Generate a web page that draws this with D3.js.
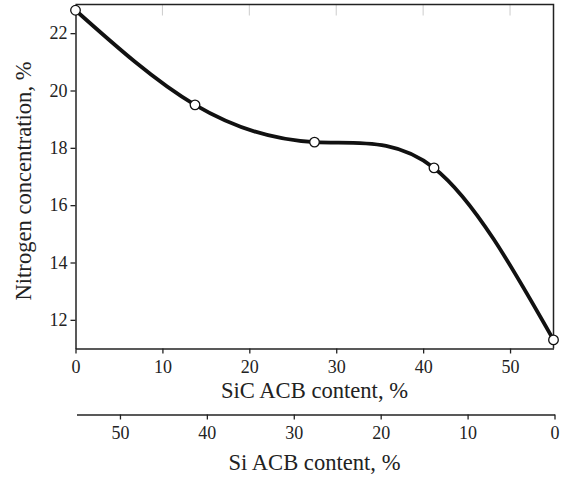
<!DOCTYPE html>
<html><head><meta charset="utf-8">
<script src="https://cdn.jsdelivr.net/npm/d3@7"></script>
<style>body{margin:0;background:#fff}</style>
</head><body><svg id="c" width="569" height="478" font-family="Liberation Serif"></svg>
<script>
const sicContent = [0, 13.75, 27.5, 41.25, 55];
const nitrogen = [22.8, 19.5, 18.2, 17.3, 11.3];
const xTicks = [0, 10, 20, 30, 40, 50];
const yTicks = [12, 14, 16, 18, 20, 22];
const siTicks = [50, 40, 30, 20, 10, 0];

const FONT = "Liberation Serif";
const svg = d3.select("#c");
const L = 75.5, R = 553.5, T = 4.5, B = 348.5, B2 = 414.5;
const x = d3.scaleLinear().domain([0, 55]).range([L, R]);
const y = d3.scaleLinear().domain([11, 23]).range([B, T]);
const x2 = d3.scaleLinear().domain([55, 0]).range([L + 1, R + 1]);

// top inner gray ticks
svg.append("g").selectAll("line").data(xTicks.filter(d => d > 0)).join("line")
  .attr("x1", d => x(d)).attr("x2", d => x(d)).attr("y1", T).attr("y2", T + 11)
  .attr("stroke", "#ccc").attr("stroke-width", 1);

// frame top/right
svg.append("path").attr("d", `M${L},${T}H${R}V${B}`).attr("fill", "none").attr("stroke", "#222").attr("stroke-width", 1.5);

const ax = svg.append("g").attr("transform", `translate(0,${B})`)
  .call(d3.axisBottom(x).tickValues(xTicks).tickSize(5).tickPadding(7).tickSizeOuter(0));
const ay = svg.append("g").attr("transform", `translate(${L},0)`)
  .call(d3.axisLeft(y).tickValues(yTicks).tickSize(5).tickPadding(3).tickSizeOuter(0));
const ax2 = svg.append("g").attr("transform", `translate(0,${B2})`)
  .call(d3.axisBottom(x2).tickValues(siTicks).tickSize(5).tickPadding(7).tickSizeOuter(0));
[ax, ay, ax2].forEach(g => {
  g.attr("font-family", FONT).attr("font-size", 18);
  g.selectAll("path.domain").attr("stroke", "#222").attr("stroke-width", 1.5);
  g.selectAll(".tick line").attr("stroke", "#222").attr("stroke-width", 1.3);
  g.selectAll("text").style("font-family", FONT).style("font-size", "18px").attr("fill", "#222");
});

const title = (t) => t.attr("font-family", FONT).style("font-family", FONT).style("font-size", "22.6px").attr("fill", "#222").attr("text-anchor", "middle");
svg.append("text").attr("x", (L + R) / 2).attr("y", 398).call(title).text("SiC ACB content, %");
svg.append("text").attr("x", (L + R) / 2).attr("y", 470).call(title).text("Si ACB content, %");
svg.append("text").attr("transform", `translate(31,181) rotate(-90)`).call(title).text("Nitrogen concentration, %");

const pts = sicContent.map((d, i) => [d, nitrogen[i]]);
const line = d3.line().x(d => x(d[0])).y(d => y(d[1])).curve(d3.curveNatural);
svg.append("path").datum(pts).attr("d", line).attr("fill", "none")
  .attr("stroke", "#111").attr("stroke-width", 3.8);
svg.append("g").selectAll("circle").data(pts).join("circle")
  .attr("cx", d => x(d[0])).attr("cy", d => y(d[1])).attr("r", 4.8)
  .attr("fill", "#fff").attr("stroke", "#111").attr("stroke-width", 1.3);
</script></body></html>
